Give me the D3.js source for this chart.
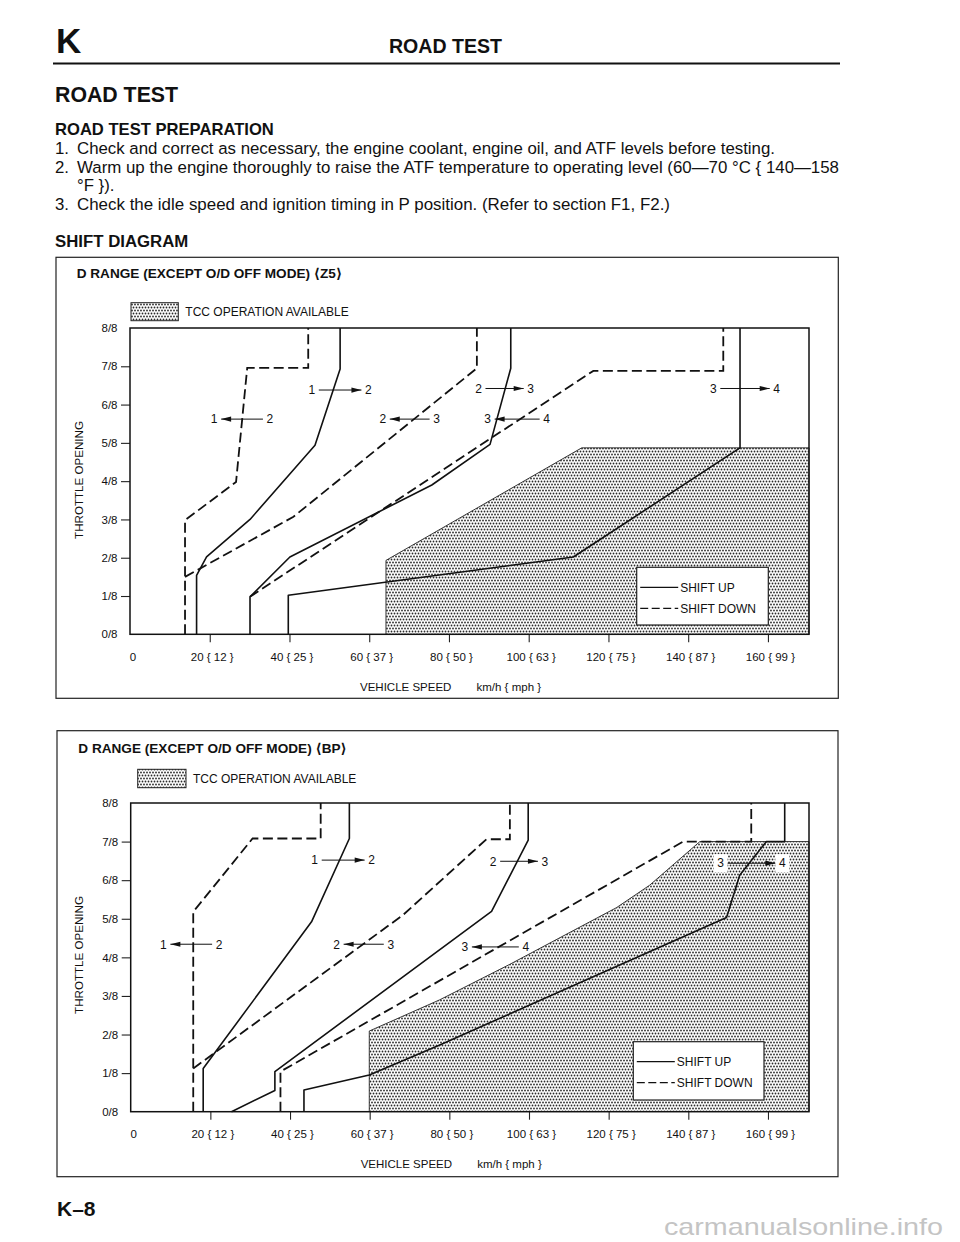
<!DOCTYPE html>
<html><head><meta charset="utf-8">
<script src="https://cdn.jsdelivr.net/npm/d3@7"></script>
<style>
body{margin:0;background:#fff}
svg{display:block}
text{font-family:"Liberation Sans",Arial,"DejaVu Sans",sans-serif;fill:#111}
</style></head>
<body><svg id="c" width="960" height="1242"></svg>
<script>
// ---------------- data ----------------
const speedMax = 170.3;
const speedTicks = [20, 40, 60, 80, 100, 120, 140, 160];
const speedTickLabels = ["20 { 12 }", "40 { 25 }", "60 { 37 }", "80 { 50 }", "100 { 63 }", "120 { 75 }", "140 { 87 }", "160 { 99 }"];
const throttleTicks = [0, 1, 2, 3, 4, 5, 6, 7, 8];
const throttleTickLabels = ["0/8", "1/8", "2/8", "3/8", "4/8", "5/8", "6/8", "7/8", "8/8"];

// Chart Z5 : [speed km/h, throttle eighths]
const z5Up12   = [[16.7,0],[16.7,1.54],[19.2,2.02],[30.1,3.0],[46.4,4.94],[52.7,6.93],[52.7,8]];
const z5Down12 = [[13.8,0],[13.8,2.98],[26.6,3.98],[29.4,6.96],[44.7,6.96],[44.7,8]];
const z5Up23   = [[30.1,0],[30.1,0.98],[40.1,2.02],[75.7,3.9],[90.3,4.96],[95.5,6.95],[95.5,8]];
const z5Down23 = [[13.8,1.5],[41.0,3.07],[87.0,6.95],[87.0,8]];
const z5Up34   = [[39.7,0],[39.7,1.02],[111.2,2.02],[153.0,4.87],[153.0,8]];
const z5Down34 = [[30.1,0.98],[116.2,6.88],[148.8,6.88],[148.8,8]];
const z5Tcc    = [[64.2,0],[64.2,1.93],[113.3,4.87],[170.3,4.87],[170.3,0]];
// shift annotations: [left gear, right gear, speed left, speed right, throttle, arrow head side]
const z5Arrows = [
  ["1","2",21.1,35.1,5.62,"left"],
  ["1","2",45.6,59.8,6.38,"right"],
  ["2","3",63.4,76.9,5.62,"left"],
  ["3","4",89.7,104.5,5.62,"left"],
  ["2","3",87.4,100.5,6.42,"right"],
  ["3","4",146.3,162.2,6.42,"right"]
];

// Chart BP
const bpUp12   = [[18.2,0],[18.2,1.12],[45.4,4.92],[54.9,7.08],[54.9,8]];
const bpDown12 = [[15.7,0],[15.7,5.18],[30.6,7.08],[47.7,7.08],[47.7,8]];
const bpUp23   = [[25.3,0],[36.2,0.55],[36.2,1.04],[90.6,5.19],[99.8,7.04],[99.8,8]];
const bpDown23 = [[15.7,1.12],[68.4,5.1],[89.3,7.06],[95.2,7.06],[95.2,8]];
const bpUp34   = [[43.5,0],[43.5,0.56],[59.9,0.95],[77.6,1.73],[149.6,5.03],[152.9,6.13],[159.6,7.0],[164.2,7.0],[164.2,8]];
const bpDown34 = [[37.6,0],[37.6,1.04],[138.7,7.0],[155.8,7.0],[155.8,8]];
const bpTcc    = [[59.9,0],[59.9,2.09],[77.6,2.9],[95.2,3.82],[122.0,5.29],[130.3,5.87],[142.9,7.0],[170.3,7.0],[170.3,0]];
const bpArrows = [
  ["1","2",8.2,22.2,4.34,"left"],
  ["1","2",46.2,60.5,6.52,"right"],
  ["2","3",51.7,65.3,4.34,"left"],
  ["3","4",83.9,99.2,4.27,"left"],
  ["2","3",91.0,104.0,6.49,"right"],
  ["3","4",148.1,163.6,6.44,"right"]
];

const bodyNums = ["1.", "2.", "", "3."];
const bodyTexts = [
  "Check and correct as necessary, the engine coolant, engine oil, and ATF levels before testing.",
  "Warm up the engine thoroughly to raise the ATF temperature to operating level (60\u201470 \u00b0C { 140\u2014158",
  "\u00b0F }).",
  "Check the idle speed and ignition timing in P position. (Refer to section F1, F2.)"
];

// ---------------- page ----------------
const svg = d3.select("#c");
const defs = svg.append("defs");
const pat = defs.append("pattern").attr("id","dots").attr("patternUnits","userSpaceOnUse")
  .attr("width",3).attr("height",6);
pat.append("rect").attr("width",3).attr("height",6).attr("fill","#fff");
[[1.5,1.5],[0,4.5],[3,4.5]].forEach(p=>pat.append("circle").attr("cx",p[0]).attr("cy",p[1]).attr("r",0.9).attr("fill","#2a2a2a"));

svg.append("text").attr("x",56).attr("y",53.3).attr("font-size",35).attr("font-weight","bold").text("K");
svg.append("text").attr("x",445.5).attr("y",53).attr("font-size",20).attr("font-weight","bold")
  .attr("text-anchor","middle").attr("textLength",113).attr("lengthAdjust","spacingAndGlyphs").text("ROAD TEST");
svg.append("line").attr("x1",53).attr("x2",840).attr("y1",63.5).attr("y2",63.5).attr("stroke","#111").attr("stroke-width",2);

svg.append("text").attr("x",55).attr("y",101.7).attr("font-size",21.3).attr("font-weight","bold").text("ROAD TEST");
svg.append("text").attr("x",55).attr("y",135).attr("font-size",16.6).attr("font-weight","bold").text("ROAD TEST PREPARATION");
const bodyY = [153.5, 172.8, 191, 209.5];
const bodyW = [698, 762, null, 593];
bodyTexts.forEach((t,i)=>{
  if (bodyNums[i]) svg.append("text").attr("x",55).attr("y",bodyY[i]).attr("font-size",16.8).text(bodyNums[i]);
  const tx = svg.append("text").attr("x",77).attr("y",bodyY[i]).attr("font-size",16.8).text(t);
  if (bodyW[i]) tx.attr("textLength",bodyW[i]).attr("lengthAdjust","spacingAndGlyphs");
});
svg.append("text").attr("x",55).attr("y",246.7).attr("font-size",16.8).attr("font-weight","bold").text("SHIFT DIAGRAM");

svg.append("text").attr("x",57).attr("y",1216).attr("font-size",21).attr("font-weight","bold").text("K\u20138");
svg.append("text").attr("x",664).attr("y",1235).attr("font-size",24).attr("textLength",279)
  .attr("lengthAdjust","spacingAndGlyphs").style("fill","#c4c4c4").text("carmanualsonline.info");

// ---------------- charts ----------------
function drawChart(c){
  const g = svg.append("g");
  g.append("rect").attr("x",c.frame[0]).attr("y",c.frame[1]).attr("width",c.frame[2]).attr("height",c.frame[3])
    .attr("fill","none").attr("stroke","#222").attr("stroke-width",1.2);
  const x = d3.scaleLinear().domain([0,speedMax]).range([c.x0,c.x1]);
  const y = d3.scaleLinear().domain([0,8]).range([c.yBot,c.yTop]);
  const line = d3.line().x(d=>x(d[0])).y(d=>y(d[1]));

  g.append("text").attr("x",c.titleX).attr("y",c.titleY).attr("font-size",13.6).attr("font-weight","bold").text(c.title);
  g.append("rect").attr("x",c.sw[0]).attr("y",c.sw[1]).attr("width",c.sw[2]).attr("height",c.sw[3])
    .attr("fill","url(#dots)").attr("stroke","#222").attr("stroke-width",1);
  g.append("text").attr("x",c.sw[0]+c.sw[2]+7).attr("y",c.sw[1]+c.sw[3]/2+4.3).attr("font-size",12).text("TCC OPERATION AVAILABLE");

  // TCC area
  g.append("path").datum(c.tcc).attr("d",line).attr("fill","url(#dots)").attr("stroke","#222").attr("stroke-width",0.9);

  // axes
  const xa = g.append("g").attr("transform",`translate(0,${c.yBot})`)
    .call(d3.axisBottom(x).tickValues(speedTicks).tickFormat((d,i)=>speedTickLabels[i]).tickSize(8).tickSizeOuter(0).tickPadding(10.3));
  xa.attr("font-family",null).attr("font-size",null);
  xa.select(".domain").remove();
  xa.selectAll(".tick line").attr("stroke","#222").attr("stroke-width",1.1);
  xa.selectAll(".tick text").attr("font-size",11.5).attr("dx",2);
  g.append("text").attr("x",x(0)+3).attr("y",c.yBot+26.5).attr("font-size",11.5).attr("text-anchor","middle").text("0");

  const ya = g.append("g").attr("transform",`translate(${c.x0},0)`)
    .call(d3.axisLeft(y).tickValues(throttleTicks).tickFormat((d,i)=>throttleTickLabels[i]).tickSize(9).tickSizeOuter(0).tickPadding(3.5));
  ya.attr("font-family",null).attr("font-size",null);
  ya.select(".domain").remove();
  ya.selectAll(".tick line").attr("stroke","#222").attr("stroke-width",1.1).attr("opacity",d=>(d===0||d===8)?0:1);
  ya.selectAll(".tick text").attr("font-size",11.5);

  // plot frame
  g.append("rect").attr("x",c.x0).attr("y",c.yTop).attr("width",c.x1-c.x0).attr("height",c.yBot-c.yTop)
    .attr("fill","none").attr("stroke","#111").attr("stroke-width",1.5);

  g.append("text").attr("transform",`translate(${c.thrX},${c.thrY}) rotate(-90)`).attr("text-anchor","middle")
    .attr("font-size",11.6).text("THROTTLE OPENING");
  g.append("text").attr("x",c.x0+230).attr("y",c.xTitleY).attr("font-size",11.5).text("VEHICLE SPEED");
  g.append("text").attr("x",c.x0+346.5).attr("y",c.xTitleY).attr("font-size",11.5).text("km/h { mph }");

  // shift lines
  c.solid.forEach(s=>g.append("path").datum(s).attr("d",line).attr("fill","none").attr("stroke","#111")
    .attr("stroke-width",1.6).attr("stroke-linejoin","round"));
  c.dashed.forEach(s=>g.append("path").datum(s).attr("d",line).attr("fill","none").attr("stroke","#111")
    .attr("stroke-width",1.8).attr("stroke-dasharray","10,4.5"));

  // shift legend
  const L = c.leg;
  g.append("rect").attr("x",L[0]).attr("y",L[1]).attr("width",L[2]).attr("height",L[3]).attr("fill","#fff")
    .attr("stroke","#222").attr("stroke-width",1.2);
  g.append("line").attr("x1",L[0]+3.5).attr("x2",L[0]+41.5).attr("y1",L[1]+20).attr("y2",L[1]+20).attr("stroke","#111").attr("stroke-width",1.3);
  g.append("line").attr("x1",L[0]+3.5).attr("x2",L[0]+41.5).attr("y1",L[1]+41).attr("y2",L[1]+41).attr("stroke","#111")
    .attr("stroke-width",1.3).attr("stroke-dasharray","8,3.5");
  g.append("text").attr("x",L[0]+43.5).attr("y",L[1]+24.3).attr("font-size",12).text("SHIFT UP");
  g.append("text").attr("x",L[0]+43.5).attr("y",L[1]+45.3).attr("font-size",12).text("SHIFT DOWN");

  // shift annotations
  c.arrows.forEach((a,i)=>{
    const xl = x(a[2]), xr = x(a[3]), yy = y(a[4]);
    if (c.boxed === i) {
      [xl,xr].forEach(xx=>g.append("rect").attr("x",xx-7).attr("y",yy-9).attr("width",14).attr("height",18).attr("fill","#fff"));
    }
    g.append("text").attr("x",xl).attr("y",yy+4.3).attr("font-size",12).attr("text-anchor","middle").text(a[0]);
    g.append("text").attr("x",xr).attr("y",yy+4.3).attr("font-size",12).attr("text-anchor","middle").text(a[1]);
    const a1 = xl+7, a2 = xr-7;
    g.append("line").attr("x1",a1).attr("x2",a2).attr("y1",yy).attr("y2",yy).attr("stroke","#111").attr("stroke-width",1);
    const tip = a[5]==="left" ? a1 : a2, back = a[5]==="left" ? a1+10 : a2-10;
    g.append("path").attr("d",`M${tip},${yy}L${back},${yy-2.6}L${back},${yy+2.6}Z`).attr("fill","#111");
  });
}

drawChart({
  frame:[56,257.3,782.3,441], x0:130, x1:809, yTop:328, yBot:634.3,
  title:"D RANGE (EXCEPT O/D OFF MODE) \u27e8Z5\u27e9", titleX:76.7, titleY:278,
  sw:[131,302.7,47.3,18], thrX:82.5, thrY:480, xTitleY:690.8,
  leg:[636.7,567.3,131.6,57.7],
  tcc:z5Tcc, solid:[z5Up12,z5Up23,z5Up34], dashed:[z5Down12,z5Down23,z5Down34],
  arrows:z5Arrows, boxed:-1
});
drawChart({
  frame:[57,730.7,781,446], x0:130.7, x1:809, yTop:803, yBot:1111.7,
  title:"D RANGE (EXCEPT O/D OFF MODE) \u27e8BP\u27e9", titleX:78.3, titleY:753,
  sw:[137.7,769.3,48.3,18.4], thrX:82.5, thrY:955, xTitleY:1168,
  leg:[633.3,1041.7,130.7,58.3],
  tcc:bpTcc, solid:[bpUp12,bpUp23,bpUp34], dashed:[bpDown12,bpDown23,bpDown34],
  arrows:bpArrows, boxed:5
});
</script></body></html>
